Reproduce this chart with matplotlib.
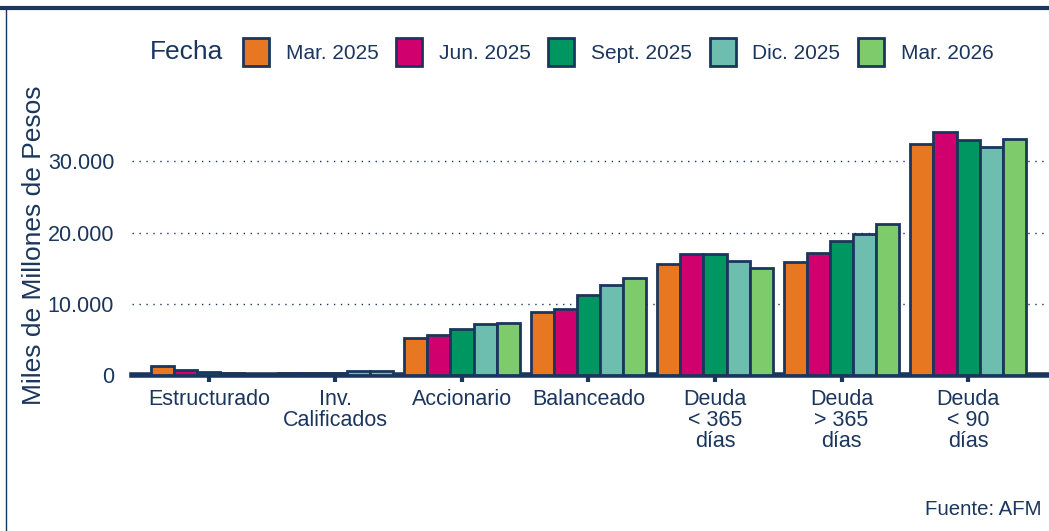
import matplotlib.pyplot as plt
from matplotlib.patches import Patch
from matplotlib.lines import Line2D
from matplotlib.ticker import FuncFormatter
from matplotlib.offsetbox import HPacker
import numpy as np

plt.rcParams['font.family'] = ['Liberation Sans', 'DejaVu Sans']

categorias = ["Estructurado", "Inv.\nCalificados", "Accionario", "Balanceado",
              "Deuda\n< 365\ndías", "Deuda\n> 365\ndías", "Deuda\n< 90\ndías"]
fechas = ["Mar. 2025", "Jun. 2025", "Sept. 2025", "Dic. 2025", "Mar. 2026"]

mar25 = [1300, 300, 5200, 8900, 15600, 15800, 32400]
jun25 = [700, 300, 5600, 9300, 17000, 17100, 34100]
sep25 = [400, 300, 6500, 11200, 17000, 18800, 33000]
dic25 = [200, 500, 7200, 12600, 16000, 19800, 32000]
mar26 = [100, 500, 7300, 13600, 15000, 21200, 33100]
series = [mar25, jun25, sep25, dic25, mar26]

colores = ["#E87722", "#D0006F", "#009661", "#6DBEAE", "#7DCB6A"]
navy = "#1B365D"

fig = plt.figure(figsize=(10.49, 5.31), dpi=100)
ax = fig.add_axes([0.126, 0.294, 0.874, 0.52])

x = np.arange(len(categorias))
w = 0.182
for i, (vals, c) in enumerate(zip(series, colores)):
    ax.bar(x + (i - 2) * w, vals, w, color=c, edgecolor=navy, linewidth=2, zorder=3)

ax.set_xlim(-0.607, 6.64)
ax.set_ylim(0, 38800)
ax.set_yticks([0, 10000, 20000, 30000])
ax.yaxis.set_major_formatter(FuncFormatter(lambda v, p: f"{int(v):,}".replace(",", ".")))
ax.grid(axis='y', linestyle=(0, (1, 4)), color=navy, linewidth=1, zorder=0)
ax.set_xticks(x)
ax.set_xticklabels(categorias, fontsize=15.5, color=navy, linespacing=1.0)
ax.tick_params(axis='x', length=5, width=3, color=navy, pad=5)
ax.tick_params(axis='y', length=0, labelsize=15.5, labelcolor=navy, pad=13)
for s in ['top', 'right', 'left']:
    ax.spines[s].set_visible(False)
ax.spines['bottom'].set_color(navy)
ax.spines['bottom'].set_linewidth(4)
ax.set_ylabel("Miles de Millones de Pesos", fontsize=19, color=navy)
ax.yaxis.set_label_coords(-0.094, 0.47)

handles = [Patch(facecolor=c, edgecolor=navy, linewidth=2, label=f) for c, f in zip(colores, fechas)]
leg = fig.legend(handles=handles, loc='center', bbox_to_anchor=(0.545, 0.902), ncol=5,
                 frameon=False, fontsize=15, handlelength=1.25, handleheight=1.69,
                 columnspacing=0.85, handletextpad=0.8,
                 title="Fecha", title_fontproperties={'size': 19})
for t in leg.get_texts():
    t.set_color(navy)
leg.get_title().set_color(navy)
# título a la izquierda de las entradas
title_box = leg._legend_title_box
content = leg._legend_handle_box
leg._legend_box._children = [HPacker(children=[title_box, content], pad=0, sep=14, align='center')]

fig.text(0.993, 0.04, "Fuente: AFM", ha='right', va='center', fontsize=14.7, color=navy)

fig.add_artist(Line2D([0, 1], [0.985, 0.985], color=navy, linewidth=3, transform=fig.transFigure))
fig.add_artist(Line2D([0.006, 0.006], [0, 0.985], color=navy, linewidth=1, transform=fig.transFigure))

fig.savefig("out.png", dpi=100)
